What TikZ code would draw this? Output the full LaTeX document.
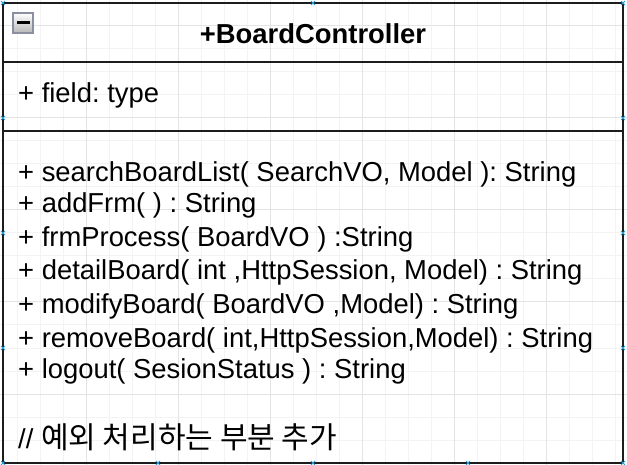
\documentclass[tikz,border=0pt]{standalone}
\usepackage{fontspec}
\setmainfont{Liberation Sans}
\newfontfamily\cjk{Noto Sans CJK KR}
\definecolor{gridmin}{HTML}{F3F3F3}
\definecolor{gridmaj}{HTML}{E4E4E4}
\definecolor{boxline}{HTML}{1C1C1C}
\definecolor{handle}{HTML}{2A9FD8}
\definecolor{iconedge}{HTML}{8A90A0}
\tikzset{
  gridminor/.style={draw=gridmin, line width=1pt},
  gridmajor/.style={draw=gridmaj, line width=1pt},
  umlline/.style={draw=boxline, line width=2.2pt},
  umltext/.style={anchor=base west, inner sep=0pt, font=\fontsize{27.4}{33}\selectfont, text=black},
  umltitle/.style={anchor=base, inner sep=0pt, font=\fontsize{27.4}{33}\selectfont\bfseries, text=black},
  handlemark/.style={draw=handle, line width=1pt},
}
\newcommand{\hmark}[2]{\draw[handlemark] (#1-2,#2-2) -- (#1+2,#2+2) (#1-2,#2+2) -- (#1+2,#2-2);}
\begin{document}
\frenchspacing
\begin{tikzpicture}[x=1pt,y=-1pt]
\useasboundingbox (0,0) rectangle (627,465);
\fill[white] (0,0) rectangle (627,465);
% grid
\foreach \gx in {17,40,...,615} {\draw[gridminor] (\gx,0) -- (\gx,465);}
\foreach \gy in {3,26,...,463} {\draw[gridminor] (0,\gy) -- (627,\gy);}
\foreach \gx in {86,178,...,546} {\draw[gridmajor] (\gx,0) -- (\gx,465);}
\foreach \gy in {26,118,...,394} {\draw[gridmajor] (0,\gy) -- (627,\gy);}
% class box
\coordinate (tl) at (3,3);
\coordinate (br) at (623,463);
\coordinate (s1l) at (3,62);
\coordinate (s1r) at (623,62);
\coordinate (s2l) at (3,131);
\coordinate (s2r) at (623,131);
\draw[umlline] (tl) rectangle (br);
\draw[umlline] (s1l) -- (s1r);
\draw[umlline] (s2l) -- (s2r);
% collapse icon
\shade[top color=white, bottom color=black!28] (13,13) rectangle (33,33);
\draw[draw=iconedge, line width=2pt] (13,13) rectangle (33,33);
\draw[black, line width=3pt] (17,22.8) -- (29.5,22.8);
% texts
\node[umltitle] (title) at (313,44) {+BoardController};
\node[umltext] (field) at (18,103) {+ field: type};
\node[umltext] (m1) at (18,182) {+ searchBoardList( SearchVO, Model ): String};
\node[umltext] (m2) at (18,213) {+ addFrm( ) : String};
\node[umltext] (m3) at (18,247) {+ frmProcess( BoardVO ) :String};
\node[umltext] (m4) at (18,280) {+ detailBoard( int ,HttpSession, Model) : String};
\node[umltext] (m5) at (18,313) {+ modifyBoard( BoardVO ,Model) : String};
\node[umltext] (m6) at (18,347) {+ removeBoard( int,HttpSession,Model) : String};
\node[umltext] (m7) at (18,378) {+ logout( SesionStatus ) : String};
\node[umltext] (note) at (18,448) {// {\cjk\fontsize{30}{36}\selectfont 예외 처리하는 부분 추가}};
% selection handles
\foreach \hx in {3,313,623} {\hmark{\hx}{3}}
\foreach \hx in {3,158,313,468,623} {\hmark{\hx}{463}}
\foreach \hy in {118,233,348} {\hmark{3}{\hy}\hmark{623}{\hy}}
\end{tikzpicture}
\end{document}
